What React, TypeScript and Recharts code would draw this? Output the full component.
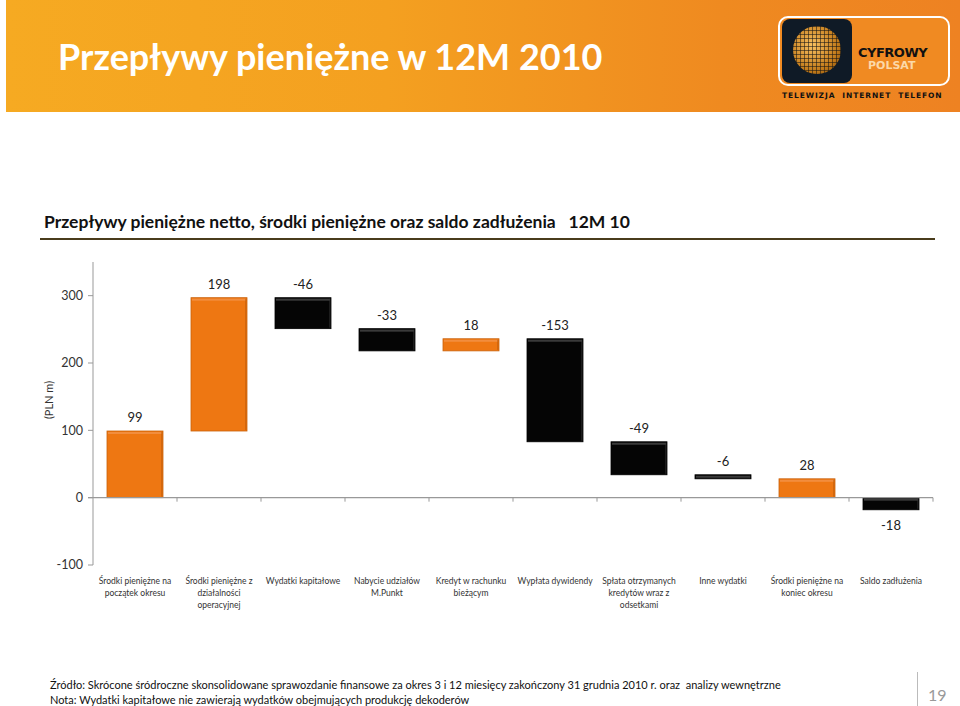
import React from 'react';
import { ComposedChart, Bar, XAxis, YAxis, Cell, LabelList, ReferenceLine } from 'recharts';

const categories = [
  'Środki pieniężne na\npoczątek okresu',
  'Środki pieniężne z\ndziałalności\noperacyjnej',
  'Wydatki kapitałowe',
  'Nabycie udziałów\nM.Punkt',
  'Kredyt w rachunku\nbieżącym',
  'Wypłata dywidendy',
  'Spłata otrzymanych\nkredytów wraz  z\nodsetkami',
  'Inne wydatki',
  'Środki pieniężne na\nkoniec okresu',
  'Saldo zadłużenia',
];
const deltas = [99, 198, -46, -33, 18, -153, -49, -6, 28, -18];
// bars that start from zero rather than continuing the running total
const fromZero = [true, false, false, false, false, false, false, false, true, true];
const yTicks = [-100, 0, 100, 200, 300];

const ORANGE = '#EE7712';
const BLACK = '#050505';
const FONT = 'Lato, "Open Sans", sans-serif';

let running = 0;
const rows = categories.map((name, i) => {
  const start = fromZero[i] ? 0 : running;
  const end = start + deltas[i];
  if (!fromZero[i] || i === 0) running = end;
  return {
    name,
    range: [Math.min(start, end), Math.max(start, end)],
    delta: deltas[i],
  };
});

const BevelBar = (props: any) => {
  const { x, y, width, height, fill } = props;
  const top = Math.min(y, y + height);
  const h = Math.abs(height);
  const orange = fill === ORANGE;
  return (
    <g>
      <rect x={x} y={top} width={width} height={h} fill={fill} stroke={orange ? '#C9620C' : '#000'} strokeWidth={0.8} />
      <rect x={x + 1} y={top + 1} width={width - 2} height={Math.min(2, Math.max(h - 2, 0))} fill={orange ? '#F5A060' : '#666'} opacity={0.55} />
      <rect x={x + width - 2} y={top + 1} width={1.5} height={Math.max(h - 2, 0)} fill={orange ? '#B85808' : '#333'} opacity={0.5} />
    </g>
  );
};

const ValueLabel = (props: any) => {
  const { x, y, width, height, value, index } = props;
  const top = Math.min(y, y + height);
  const bottom = Math.max(y, y + height);
  const below = rows[index].range[0] < 0;
  return (
    <text
      x={x + width / 2}
      y={below ? bottom + 20 : top - 9}
      textAnchor="middle"
      fontSize={13}
      fontFamily={FONT}
      fill="#222"
    >
      {value}
    </text>
  );
};

const CategoryTick = (props: any) => {
  const { x, y, payload } = props;
  const lines = String(payload.value).split('\n');
  return (
    <text x={x} y={y} textAnchor="middle" fontSize={8.5} fontFamily={FONT} fill="#333">
      {lines.map((l, i) => (
        <tspan key={i} x={x} y={y + 19 + i * 12}>
          {l}
        </tspan>
      ))}
    </text>
  );
};

const ZeroLine = (props: any) => {
  const { x1, y1, x2, y2 } = props;
  const step = (x2 - x1) / categories.length;
  return (
    <g>
      <line x1={x1 - 5} y1={y1} x2={x2} y2={y2} stroke="#999" strokeWidth={1.2} />
      {categories.map((_, i) => (
        <line key={i} x1={x1 + step * (i + 1)} y1={y1} x2={x1 + step * (i + 1)} y2={y1 + 4} stroke="#999" strokeWidth={1} />
      ))}
    </g>
  );
};

const Logo = () => (
  <div style={{ position: 'absolute', left: 778, top: 16, width: 174, height: 90 }}>
    <div style={{ position: 'absolute', left: 0, top: 0, width: 168, height: 66, border: '2px solid #fff', borderRadius: 10, background: '#F08A22' }} />
    <div style={{ position: 'absolute', left: 4, top: 3, width: 70, height: 64, borderRadius: 8, background: '#0F1A26' }}>
      <div
        style={{
          position: 'absolute', left: 11, top: 7, width: 48, height: 48, borderRadius: '50%',
          background:
            'repeating-linear-gradient(0deg, transparent 0 3px, rgba(20,20,20,0.55) 3px 4px), repeating-linear-gradient(90deg, transparent 0 3px, rgba(20,20,20,0.55) 3px 4px), radial-gradient(circle at 40% 40%, #F8C060, #C07818 65%, #6a4210)',
        }}
      />
    </div>
    <div style={{ position: 'absolute', left: 80, top: 29, fontFamily: 'DejaVu Sans, sans-serif', fontWeight: 900, fontSize: 13, color: '#111', letterSpacing: -0.5 }}>CYFROWY</div>
    <div style={{ position: 'absolute', left: 90, top: 43, fontFamily: 'DejaVu Sans, sans-serif', fontWeight: 900, fontSize: 11, color: '#FCD9A8' }}>POLSAT</div>
    <div style={{ position: 'absolute', left: 4, top: 75, fontFamily: 'DejaVu Sans, sans-serif', fontWeight: 900, fontSize: 7.5, color: '#111', whiteSpace: 'nowrap', letterSpacing: 0.9 }}>
      TELEWIZJA&nbsp;&nbsp;INTERNET&nbsp;&nbsp;TELEFON
    </div>
  </div>
);

export default function App() {
  return (
    <div style={{ position: 'absolute', left: 0, top: 0, width: 960, height: 706, background: '#fff', overflow: 'hidden', fontFamily: FONT }}>
      <div style={{ position: 'absolute', left: 6, top: 0, width: 954, height: 112, background: 'linear-gradient(90deg, #F6AA22 0%, #F4A020 40%, #EF8A20 75%, #EE8222 100%)' }} />
      <div style={{ position: 'absolute', left: 58, top: 34, fontSize: 36, fontWeight: 700, color: '#fff', whiteSpace: 'nowrap' }}>
        Przepływy pieniężne w 12M 2010
      </div>
      <Logo />

      <div style={{ position: 'absolute', left: 44, top: 211, fontSize: 17.5, fontWeight: 700, color: '#111', whiteSpace: 'nowrap' }}>
        Przepływy pieniężne netto, środki pieniężne oraz saldo zadłużenia&nbsp;&nbsp;&nbsp;12M 10
      </div>
      <div style={{ position: 'absolute', left: 40, top: 238, width: 895, height: 2, background: '#4A3C1C' }} />

      <div style={{ position: 'absolute', left: 40, top: 400, transform: 'translate(-50%, -50%) rotate(-90deg)', transformOrigin: 'center', marginLeft: 8, fontSize: 11, color: '#333', whiteSpace: 'nowrap' }}>
        (PLN m)
      </div>

      <div style={{ position: 'absolute', left: 0, top: 250 }}>
        <ComposedChart
          width={960}
          height={400}
          data={rows}
          margin={{ top: 12, right: 27, bottom: 25, left: 43 }}
          barCategoryGap={14}
        >
          <XAxis
            dataKey="name"
            axisLine={false}
            tickLine={false}
            tickSize={0}
            tickMargin={0}
            interval={0}
            height={60}
            tick={<CategoryTick />}
          />
          <YAxis
            width={50}
            domain={[-100, 350]}
            ticks={yTicks}
            allowDataOverflow
            stroke="#999"
            tickSize={5}
            tickMargin={5}
            tick={{ fontSize: 12.5, fill: '#333', fontFamily: FONT }}
          />
          <ReferenceLine y={0} shape={<ZeroLine />} />
          <Bar dataKey="range" barSize={56} isAnimationActive={false} shape={<BevelBar />}>
            {rows.map((r, i) => (
              <Cell key={i} fill={r.delta >= 0 ? ORANGE : BLACK} />
            ))}
            <LabelList dataKey="delta" content={<ValueLabel />} />
          </Bar>
        </ComposedChart>
      </div>

      <div style={{ position: 'absolute', left: 50, top: 677, fontSize: 11, color: '#111', whiteSpace: 'nowrap', lineHeight: '15px' }}>
        Źródło: Skrócone śródroczne skonsolidowane sprawozdanie finansowe za okres 3 i 12 miesięcy zakończony 31 grudnia 2010 r. oraz&nbsp;&nbsp;analizy wewnętrzne
        <br />
        Nota: Wydatki kapitałowe nie zawierają wydatków obejmujących produkcję dekoderów
      </div>
      <div style={{ position: 'absolute', left: 917, top: 672, width: 1, height: 34, background: '#bbb' }} />
      <div style={{ position: 'absolute', left: 928, top: 685, fontSize: 16, color: '#999' }}>19</div>
    </div>
  );
}
